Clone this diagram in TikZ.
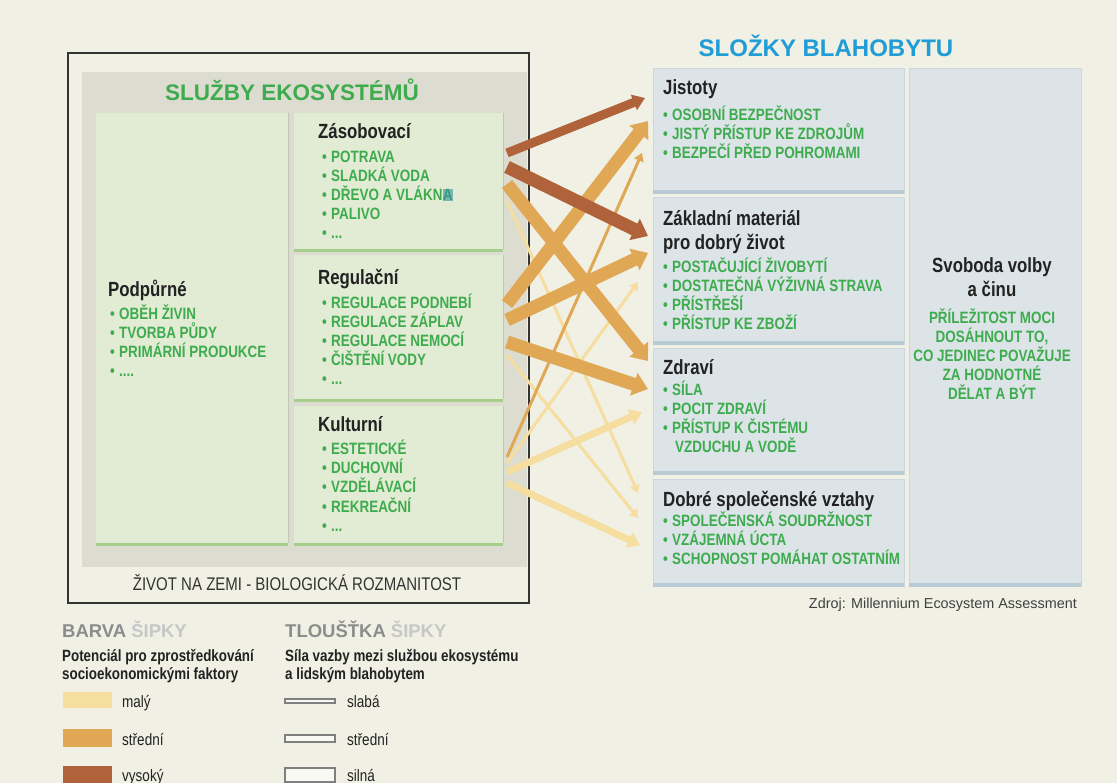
\documentclass[tikz,border=0pt]{standalone}
\usepackage{fontspec}
\setmainfont{Liberation Sans}
\newfontfamily\narrowf[FakeStretch=0.82]{Liberation Sans}
\usetikzlibrary{arrows.meta}
\definecolor{bg}{RGB}{240,240,228}
\definecolor{grayin}{RGB}{220,220,208}
\definecolor{svcfill}{RGB}{226,235,212}
\definecolor{svcedge}{RGB}{166,207,140}
\definecolor{wbfill}{RGB}{220,228,231}
\definecolor{wbedge}{RGB}{184,202,212}
\definecolor{wbline}{RGB}{204,216,222}
\definecolor{gtext}{RGB}{62,172,78}
\definecolor{btitle}{RGB}{32,156,214}
\definecolor{darktext}{RGB}{34,34,34}
\definecolor{cLow}{RGB}{246,222,160}
\definecolor{cMid}{RGB}{224,168,85}
\definecolor{cHigh}{RGB}{176,99,58}
\definecolor{hlc}{RGB}{120,182,178}
\definecolor{hlt}{RGB}{60,150,130}
\newcommand\hlA[1]{{\setlength\fboxsep{0.4pt}\colorbox{hlc}{\textcolor{hlt}{#1}}}}
\newcommand\edots{...}
\newcommand\fdots{....}
\tikzset{
  itm/.style={anchor=base west, inner sep=0pt, text=gtext, font=\narrowf\bfseries\fontsize{16.4}{19}\selectfont},
  hdr/.style={anchor=base west, inner sep=0pt, text=darktext, font=\narrowf\bfseries\fontsize{20.5}{24}\selectfont},
  ctr/.style={anchor=base, inner sep=0pt, text=gtext, font=\narrowf\bfseries\fontsize{16.4}{19}\selectfont},
  weakarr/.style={line width=3pt, line cap=butt, -{Triangle[length=8pt,width=10pt]}},
  medarr/.style={line width=7pt, line cap=butt, -{Triangle[length=12pt,width=16pt]}},
  strongarr/.style={line width=13pt, line cap=butt, -{Triangle[length=15pt,width=23pt]}},
  legtxt/.style={anchor=base west, inner sep=0pt, text=darktext, font=\narrowf\fontsize{16.5}{19}\selectfont},
  legsample/.style={draw=black!50, fill=white!60!bg, line width=1.1pt}
}
\newcommand\svcbox[4]{\fill[svcfill] (#1,#2) rectangle (#3,#4);
  \fill[svcedge] (#1,#4-3) rectangle (#3,#4);
  \draw[svcfill!85!black, line width=0.6pt] (#3,#2) -- (#3,#4-3);}
\newcommand\wbbox[4]{\fill[wbfill] (#1,#2) rectangle (#3,#4);
  \draw[wbline, line width=1pt] (#1,#4) -- (#1,#2) -- (#3,#2) -- (#3,#4);
  \fill[wbedge] (#1,#4-4) rectangle (#3,#4);}
\newcommand\itemlist[4]{\foreach \t [count=\i from 0] in {#4} {
  \node[itm] (#3\i) at (#1,#2+19*\i) {\makebox[9pt][l]{•}\t};}}
\begin{document}
\begin{tikzpicture}[x=1pt,y=-1pt]
\useasboundingbox (0,0) rectangle (1117,783);
\fill[bg] (0,0) rectangle (1117,783);
% ---------- left frame ----------
\fill[grayin] (82,72) rectangle (527,567);
\node[anchor=base, inner sep=0pt, text=gtext, font=\bfseries\fontsize{22.5}{26}\selectfont] (es) at (292,101) {SLUŽBY EKOSYSTÉMŮ};
\svcbox{96}{113}{288}{546}
\svcbox{294}{113}{503}{252}
\svcbox{294}{255}{503}{402}
\svcbox{294}{406}{503}{546}
\node[hdr] (podh) at (108,297) {Podpůrné};
\itemlist{110}{320}{pod}{OBĚH ŽIVIN,TVORBA PŮDY,PRIMÁRNÍ PRODUKCE,\fdots}
\node[hdr] (zash) at (318,139) {Zásobovací};
\itemlist{322}{163}{zas}{POTRAVA,SLADKÁ VODA,DŘEVO A VLÁKN\hlA{A},PALIVO,\edots}
\node[hdr] (regh) at (318,285) {Regulační};
\itemlist{322}{309}{reg}{REGULACE PODNEBÍ,REGULACE ZÁPLAV,REGULACE NEMOCÍ,ČIŠTĚNÍ VODY,\edots}
\node[hdr] (kulh) at (318,432) {Kulturní};
\itemlist{322}{455}{kul}{ESTETICKÉ,DUCHOVNÍ,VZDĚLÁVACÍ,REKREAČNÍ,\edots}
\node[anchor=base, inner sep=0pt, text=black!80, font=\narrowf\fontsize{18.3}{22}\selectfont] (bio) at (297,590) {ŽIVOT NA ZEMI - BIOLOGICKÁ ROZMANITOST};
\draw[black!80, line width=1.4pt] (68,53) rectangle (529,603);
% ---------- right side ----------
\node[anchor=base, inner sep=0pt, text=btitle, font=\bfseries\fontsize{24}{28}\selectfont] (wb) at (826,57) {SLOŽKY BLAHOBYTU};
\wbbox{653}{69}{904}{194}
\wbbox{653}{198}{904}{345}
\wbbox{653}{349}{904}{475}
\wbbox{653}{480}{904}{587}
\wbbox{909}{69}{1081}{587}
\node[hdr] (jish) at (663,95) {Jistoty};
\itemlist{663}{121}{jis}{OSOBNÍ BEZPEČNOST,JISTÝ PŘÍSTUP KE ZDROJŮM,BEZPEČÍ PŘED POHROMAMI}
\node[hdr] (zakh) at (663,226) {Základní materiál};
\node[hdr] (zakh2) at (663,250) {pro dobrý život};
\itemlist{663}{273}{zak}{POSTAČUJÍCÍ ŽIVOBYTÍ,DOSTATEČNÁ VÝŽIVNÁ STRAVA,PŘÍSTŘEŠÍ,PŘÍSTUP KE ZBOŽÍ}
\node[hdr] (zdrh) at (663,375) {Zdraví};
\itemlist{663}{396}{zdr}{SÍLA,POCIT ZDRAVÍ,PŘÍSTUP K ČISTÉMU}
\node[itm] (zdr3) at (675,453) {VZDUCHU A VODĚ};
\node[hdr] (dobh) at (663,507) {Dobré společenské vztahy};
\itemlist{663}{526}{dob}{SPOLEČENSKÁ SOUDRŽNOST,VZÁJEMNÁ ÚCTA,SCHOPNOST POMÁHAT OSTATNÍM}
\node[hdr, anchor=base] (svh) at (992,273) {Svoboda volby};
\node[hdr, anchor=base] (svh2) at (992,297) {a činu};
\node[ctr] (sv0) at (992,324) {PŘÍLEŽITOST MOCI};
\node[ctr] (sv1) at (992,343) {DOSÁHNOUT TO,};
\node[ctr] (sv2) at (992,362) {CO JEDINEC POVAŽUJE};
\node[ctr] (sv3) at (992,381) {ZA HODNOTNÉ};
\node[ctr] (sv4) at (992,400) {DĚLAT A BÝT};
\node[anchor=base east, inner sep=0pt, text=black!75, font=\fontsize{14.4}{17}\selectfont] (src) at (1077,608) {Zdroj: Millennium Ecosystem Assessment};
% ---------- arrows ----------
\coordinate (sZ1) at (507,153); \coordinate (sZ2) at (507,167); \coordinate (sZ3) at (507,184); \coordinate (sZ4) at (507,201);
\coordinate (sR1) at (507,304); \coordinate (sR2) at (507,320); \coordinate (sR3) at (507,342); \coordinate (sR4) at (507,355);
\coordinate (sK1) at (507,457); \coordinate (sK2) at (507,463); \coordinate (sK3) at (507,472); \coordinate (sK4) at (507,483);
\coordinate (tJ1) at (645,98);  \coordinate (tJ2) at (648,121); \coordinate (tJ3) at (642,153);
\coordinate (tB1) at (648,236); \coordinate (tB2) at (648,253); \coordinate (tB3) at (638,282);
\coordinate (tH1) at (648,361); \coordinate (tH2) at (648,389); \coordinate (tH3) at (642,412);
\coordinate (tS1) at (638,493); \coordinate (tS2) at (638,518); \coordinate (tS3) at (640,545);
\draw[weakarr, cLow] (sZ4) -- (tS1);
\draw[weakarr, cLow] (sR4) -- (tS2);
\draw[weakarr, cLow] (sK2) -- (tB3);
\draw[medarr, cLow] (sK3) -- (tH3);
\draw[medarr, cLow] (sK4) -- (tS3);
\draw[weakarr, cMid] (sK1) -- (tJ3);
\draw[strongarr, cMid] (sR3) -- (tH2);
\draw[strongarr, cMid] (sR2) -- (tB2);
\draw[strongarr, cMid] (sZ3) -- (tH1);
\draw[strongarr, cMid] (sR1) -- (tJ2);
\draw[strongarr, cHigh] (sZ2) -- (tB1);
\draw[medarr, line width=9pt, cHigh] (sZ1) -- (tJ1);
% ---------- legend ----------
\node[anchor=base west, inner sep=0pt, font=\bfseries\fontsize{18.5}{22}\selectfont] (lg1) at (62,637) {\textcolor{black!45}{BARVA}\hspace{5pt}\textcolor{black!22}{ŠIPKY}};
\node[anchor=base west, inner sep=0pt, font=\bfseries\fontsize{18.5}{22}\selectfont] (lg2) at (285,637) {\textcolor{black!45}{TLOUŠŤKA}\hspace{5pt}\textcolor{black!22}{ŠIPKY}};
\node[legtxt, font=\narrowf\bfseries\fontsize{16.3}{19}\selectfont] (lc1) at (62,661) {Potenciál pro zprostředkování};
\node[legtxt, font=\narrowf\bfseries\fontsize{16.3}{19}\selectfont] (lc2) at (62,679) {socioekonomickými faktory};
\node[legtxt, font=\narrowf\bfseries\fontsize{16.3}{19}\selectfont] (lt1) at (285,661) {Síla vazby mezi službou ekosystému};
\node[legtxt, font=\narrowf\bfseries\fontsize{16.3}{19}\selectfont] (lt2) at (285,679) {a lidským blahobytem};
\fill[cLow] (63,692) rectangle (112,708);
\fill[cMid] (63,729) rectangle (112,747);
\fill[cHigh] (63,766) rectangle (112,784);
\node[legtxt] (lmaly) at (122,707) {malý};
\node[legtxt] (lstr) at (122,745) {střední};
\node[legtxt] (lvys) at (122,781) {vysoký};
\draw[legsample] (285,699) rectangle (335,703);
\draw[legsample] (285,735) rectangle (335,742);
\draw[legsample] (285,768) rectangle (335,782);
\node[legtxt] (lsla) at (347,707) {slabá};
\node[legtxt] (lstr2) at (347,745) {střední};
\node[legtxt] (lsil) at (347,781) {silná};
\end{tikzpicture}
\end{document}
